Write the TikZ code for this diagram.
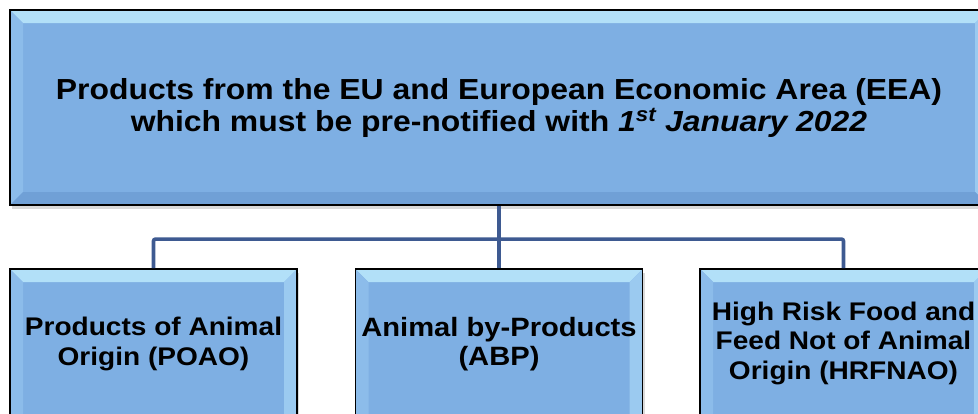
\documentclass[tikz,border=0pt]{standalone}
\usepackage{fontspec}
\setmainfont{Liberation Sans}[FakeStretch=1.1]
\usetikzlibrary{calc,shadows}
\definecolor{boxfill}{RGB}{126,175,227}
\definecolor{bevtop}{RGB}{178,224,248}
\definecolor{bevleft}{RGB}{140,188,234}
\definecolor{bevright}{RGB}{155,202,240}
\definecolor{bevbot}{RGB}{112,160,214}
\definecolor{connblue}{RGB}{62,90,145}
\tikzset{
  bevelbox/.style={
    draw=black, line width=1.8pt, fill=boxfill, inner sep=0pt,
    align=center, font=\bfseries,
    drop shadow={shadow xshift=2pt, shadow yshift=-4pt, opacity=0.25, fill=black!60},
    path picture={
      \coordinate (pnw) at (path picture bounding box.north west);
      \coordinate (pne) at (path picture bounding box.north east);
      \coordinate (psw) at (path picture bounding box.south west);
      \coordinate (pse) at (path picture bounding box.south east);
      \fill[bevtop] (pnw) -- (pne) -- ($(pne)+(-13,13)$) -- ($(pnw)+(13,13)$) -- cycle;
      \fill[bevleft] (pnw) -- ($(pnw)+(13,13)$) -- ($(psw)+(13,-13)$) -- (psw) -- cycle;
      \fill[bevright] (pne) -- ($(pne)+(-13,13)$) -- ($(pse)+(-13,-13)$) -- (pse) -- cycle;
      \fill[bevbot] (psw) -- ($(psw)+(13,-13)$) -- ($(pse)+(-13,-13)$) -- (pse) -- cycle;
    }
  },
  topbox/.style={bevelbox, minimum width=978pt, minimum height=195pt,
    font=\bfseries\fontsize{29}{32}\selectfont},
  leafbox/.style={bevelbox, minimum width=287pt, minimum height=160pt},
  leaftext/.style={align=center, font=\bfseries\fontsize{25.5}{29.5}\selectfont},
  conn/.style={draw=connblue, line width=3.6pt, rounded corners=2pt}
}
\begin{document}
\begin{tikzpicture}[x=1pt, y=-1pt]
\useasboundingbox (0,0) rectangle (978,413);
\clip (0,0) rectangle (978,413);

% upper box
\node[topbox] (top) at (499,107.5)
  {Products from the EU and European Economic Area (EEA)\\
   which must be pre-notified with \textit{1\textsuperscript{st} January 2022}};

% three category boxes (their lower edges run past the page)
\node[leafbox] (poao) at (153.5,349) {};
\node[leafbox] (abp) at (499,349) {};
\node[leafbox] (hrf) at (843.5,349) {};
\node[leaftext] (poaot) at (poao.center |- 0,344)
  {Products of Animal\\Origin (POAO)};
\node[leaftext, font=\bfseries\fontsize{26.5}{29.5}\selectfont] (abpt) at (abp.center |- 0,344)
  {Animal by-Products\\(ABP)};
\node[leaftext] (hrft) at (hrf.center |- 0,343)
  {High Risk Food and\\Feed Not of Animal\\Origin (HRFNAO)};

% connectors
\draw[conn] (top.south) -- (abp.north);
\draw[conn] (poao.north) -- ++(0,-29) -| (hrf.north);
\end{tikzpicture}
\end{document}
